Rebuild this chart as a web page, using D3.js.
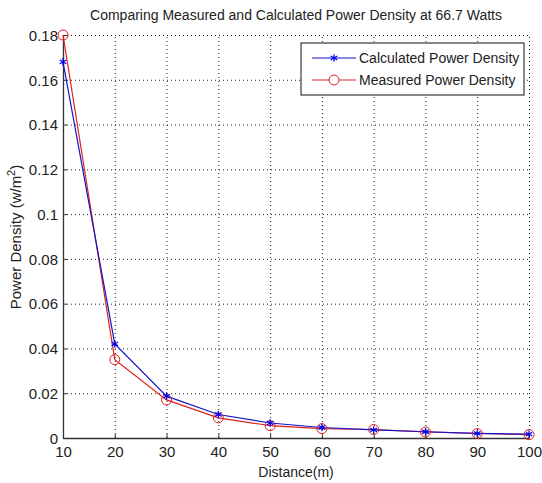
<!DOCTYPE html>
<html>
<head>
<meta charset="utf-8">
<script src="https://cdn.jsdelivr.net/npm/d3@7"></script>
<style>
  body { margin: 0; background: #fff; }
  svg { display: block; font-family: "Liberation Sans", Arial, sans-serif; }
</style>
</head>
<body>
<script>
// chart data
var distances = [10, 20, 30, 40, 50, 60, 70, 80, 90, 100];
var calculated = [0.168, 0.042, 0.0187, 0.0105, 0.0067, 0.0047, 0.0036, 0.0028, 0.0021, 0.0017];
var measured = [0.180, 0.035, 0.017, 0.009, 0.0055, 0.0042, 0.0038, 0.0027, 0.0020, 0.0015];
var xTicks = [10, 20, 30, 40, 50, 60, 70, 80, 90, 100];
var yTicks = [0, 0.02, 0.04, 0.06, 0.08, 0.1, 0.12, 0.14, 0.16, 0.18];
var seriesNames = ["Calculated Power Density", "Measured Power Density"];

function draw_chart() {
    var width = 542, height = 483;
    var margin = {left: 63, right: 13, top: 35, bottom: 45};

    var svg = d3.select("body").append("svg")
                .attr("width", width)
                .attr("height", height);

    var x = d3.scaleLinear().domain([10, 100]).range([margin.left, width - margin.right]);
    var y = d3.scaleLinear().domain([0, 0.18]).range([height - margin.bottom, margin.top]);

    // dotted grid
    var grid = svg.append("g").attr("stroke", "#222").attr("stroke-dasharray", "1,3").attr("stroke-width", 1);
    grid.selectAll("line.gx")
        .data(xTicks.slice(1))
        .enter().append("line")
        .attr("x1", function(d) { return x(d) + 0.5; })
        .attr("x2", function(d) { return x(d) + 0.5; })
        .attr("y1", y(0)).attr("y2", y(0.18));
    grid.selectAll("line.gy")
        .data(yTicks.slice(1))
        .enter().append("line")
        .attr("y1", function(d) { return y(d) + 0.5; })
        .attr("y2", function(d) { return y(d) + 0.5; })
        .attr("x1", x(10)).attr("x2", x(100));

    // axes
    var xAxis = d3.axisBottom(x).tickValues(xTicks).tickSizeInner(-4).tickSizeOuter(0).tickPadding(8)
                  .tickFormat(d3.format("d"));
    var yAxis = d3.axisLeft(y).tickValues(yTicks).tickSizeInner(-4).tickSizeOuter(0).tickPadding(5)
                  .tickFormat(function(d) { return d === 0 ? "0" : String(+d.toFixed(2)); });

    var gx = svg.append("g").attr("transform", "translate(0," + y(0) + ")").call(xAxis);
    var gy = svg.append("g").attr("transform", "translate(" + x(10) + ",0)").call(yAxis);
    [gx, gy].forEach(function(g) {
        g.select(".domain").attr("stroke", "#333").attr("stroke-width", 1.3);
        g.selectAll(".tick line").attr("stroke", "#333");
        g.selectAll("text").attr("font-size", 15).attr("fill", "#222")
         .attr("font-family", "'Liberation Sans', Arial, sans-serif");
    });
    gy.selectAll("text").attr("dy", "0.35em");

    // lines
    var line = d3.line()
                 .x(function(d, i) { return x(distances[i]); })
                 .y(function(d) { return y(d); });

    svg.append("path").datum(measured)
       .attr("d", line).attr("fill", "none")
       .attr("stroke", "#e02020").attr("stroke-width", 1.2);
    svg.append("path").datum(calculated)
       .attr("d", line).attr("fill", "none")
       .attr("stroke", "#1515c8").attr("stroke-width", 1.2);

    // markers
    svg.selectAll("circle.m")
       .data(measured).enter().append("circle")
       .attr("cx", function(d, i) { return x(distances[i]); })
       .attr("cy", function(d) { return y(d); })
       .attr("r", 5).attr("fill", "none")
       .attr("stroke", "#e02020").attr("stroke-width", 1);

    var star = d3.symbol().type(d3.symbolAsterisk).size(40);
    svg.selectAll("path.c")
       .data(calculated).enter().append("path")
       .attr("d", star)
       .attr("transform", function(d, i) { return "translate(" + x(distances[i]) + "," + y(d) + ")"; })
       .attr("fill", "none").attr("stroke", "#0000ee").attr("stroke-width", 1.2);

    // title and labels
    svg.append("text").attr("x", 296).attr("y", 20)
       .attr("text-anchor", "middle").attr("font-size", 14).attr("fill", "#222")
       .text("Comparing Measured and Calculated Power Density at 66.7 Watts");

    svg.append("text").attr("x", 296).attr("y", 477)
       .attr("text-anchor", "middle").attr("font-size", 14).attr("fill", "#222")
       .text("Distance(m)");

    var yl = svg.append("text")
       .attr("transform", "translate(21," + 237 + ") rotate(-90)")
       .attr("text-anchor", "middle").attr("font-size", 15).attr("fill", "#222");
    yl.append("tspan").text("Power Density (w/m");
    yl.append("tspan").attr("dy", -6).attr("font-size", 11).text("2");
    yl.append("tspan").attr("dy", 6).text(")");

    // legend
    var lg = svg.append("g").attr("transform", "translate(301,43)");
    lg.append("rect").attr("width", 223).attr("height", 52)
      .attr("fill", "#fff").attr("stroke", "#111").attr("stroke-width", 1);
    var colors = ["#1515c8", "#e02020"];
    seriesNames.forEach(function(name, i) {
        var yy = 15 + i * 22;
        lg.append("line").attr("x1", 11).attr("x2", 55).attr("y1", yy).attr("y2", yy)
          .attr("stroke", colors[i]).attr("stroke-width", 1.2);
        if (i === 0) {
            lg.append("path").attr("d", star).attr("transform", "translate(33," + yy + ")")
              .attr("fill", "none").attr("stroke", "#0000ee").attr("stroke-width", 1.2);
        } else {
            lg.append("circle").attr("cx", 33).attr("cy", yy).attr("r", 5)
              .attr("fill", "#fff").attr("stroke", "#e02020");
        }
        lg.append("text").attr("x", 58).attr("y", yy).attr("dy", "0.35em")
          .attr("font-size", 14).attr("fill", "#222").text(name);
    });
}

document.addEventListener("DOMContentLoaded", draw_chart());
</script>
</body>
</html>
